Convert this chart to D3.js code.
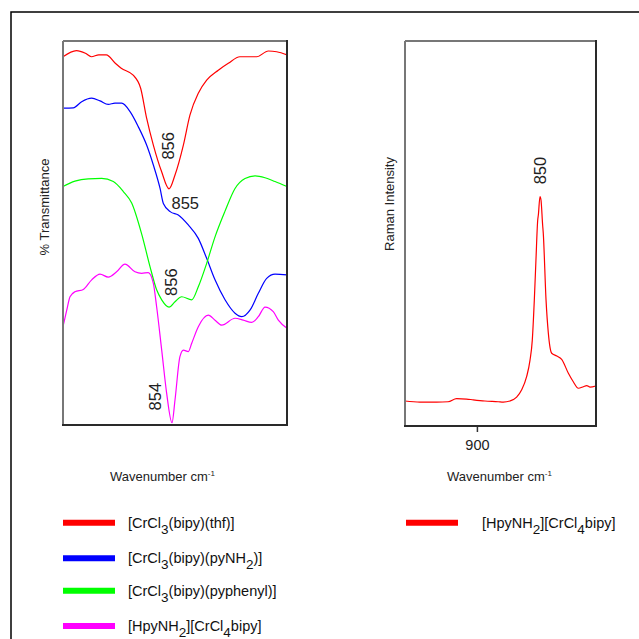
<!DOCTYPE html>
<html>
<head>
<meta charset="utf-8">
<script src="https://cdn.jsdelivr.net/npm/d3@7"></script>
<style>
  html, body { margin: 0; padding: 0; background: #fff; }
  svg { display: block; font-family: Arial, "Liberation Sans", sans-serif; }
</style>
</head>
<body>
<script>
// ---- IR spectra: [wavenumber cm-1, % transmittance (arbitrary offset)] ----
const irThf = [[927,95.9],[918,97.5],[912,96.8],[908,95.9],[903,96.4],[898,96.4],[892,94.2],[888,92.9],[880,91.1],[875,87.7],[871,79.9],[866.5,72.9],[861,66.0],[856,61.5],[852,65.1],[846.4,72.9],[842,80.7],[836.4,86.4],[830.8,89.8],[823,92.4],[816.3,94.2],[808.5,95.9],[797.3,95.9],[789.5,97.4],[783.9,97.2],[777,96.4]];
const irPyNH2 = [[927,82.5],[920.1,82.6],[914.5,84.2],[907.8,85.1],[902.2,84.4],[896.7,83.5],[892.2,83.8],[887.7,83.8],[882.1,81.6],[876.6,77.7],[871,72.9],[866.5,67.7],[862,61.6],[859.8,57.7],[855,55.5],[849.8,54.7],[843.1,52.1],[836.4,48.6],[830.8,43.4],[825.2,37.8],[818.5,32.6],[811.8,29.1],[807.3,28.2],[801.8,29.9],[796.2,34.3],[790.6,38.2],[785,39.3],[777,39.1]];
const irPyphenyl = [[927,62.1],[919,63.5],[910.1,64.1],[901.1,64.2],[893.3,63.4],[886.6,60.8],[881,57.8],[874.3,49.7],[868.7,41.2],[864.3,35.2],[860.9,32.6],[856,30.7],[852,32.1],[847.5,33.4],[840.8,32.6],[836.4,36.0],[830.8,42.1],[825.2,49.0],[818.5,55.7],[811.8,61.6],[805.1,64.2],[798.4,64.9],[791.7,64.4],[785,63.4],[777,62.1]];
const irHpyNH2 = [[927,25.6],[924.5,29.9],[922.3,33.4],[919,34.7],[913.4,35.3],[907.8,37.8],[902.2,39.3],[896.7,38.5],[891.1,39.9],[885.5,41.9],[878.8,39.9],[874.3,39.5],[869.9,39.7],[866.5,36.9],[864.3,30.8],[860.9,19.5],[857.6,8.3],[854,0.6],[852,6.5],[848.7,17.8],[846.4,19.5],[843.1,19.1],[840.8,21.3],[836.4,25.6],[829.7,28.6],[825.2,27.3],[820.7,26.0],[811.8,27.8],[806.3,27.3],[800.6,26.7],[796.2,28.2],[791.7,30.7],[786.2,29.5],[782.8,27.3],[777,25.2]];

// ---- Raman spectrum: [wavenumber cm-1, intensity (arbitrary)] ----
const ramanHpyNH2 = [[957,6.5],[945.2,6.2],[932,6.2],[922.8,6.3],[916.1,7.1],[908.2,7.0],[902.9,6.8],[893.7,6.5],[883.1,6.3],[879.1,6.2],[873.8,6.5],[868.5,7.5],[864.5,9.4],[860.6,12.8],[857.9,17.1],[856.1,22.3],[854.5,32.7],[853.2,43.1],[851.8,53.5],[851.3,54.8],[850,59.6],[849.2,58.7],[847.9,52.2],[847.4,50.1],[845.2,32.7],[843.4,24.2],[840.7,18.9],[836.7,18.2],[832.8,17.3],[827.5,13.7],[823.6,11.5],[819.6,9.8],[815.6,10.2],[813,10.5],[810.3,10.1],[805.8,10.4]];

// legend labels ("_n" marks a subscript digit)
const irLabels = ["[CrCl_3(bipy)(thf)]", "[CrCl_3(bipy)(pyNH_2)]", "[CrCl_3(bipy)(pyphenyl)]", "[HpyNH_2][CrCl_4bipy]"];
const ramanLabels = ["[HpyNH_2][CrCl_4bipy]"];

// band positions marked on the spectra
const irPeakSeries = [0, 1, 2, 3];
const irPeakValues = [856, 855, 856, 854];
const ramanPeakValues = [850];

const ramanTicks = [900];
const axisTitleX = "Wavenumber cm";
const irAxisTitleY = "% Transmittance";
const ramanAxisTitleY = "Raman Intensity";

// styling
const irColors = ["#ff0000", "#0000ff", "#00ff00", "#ff00ff"];
const ramanColor = "#ff0000";
const irSeries = [irThf, irPyNH2, irPyphenyl, irHpyNH2];

const W = 639, H = 639;
const svg = d3.select("body").append("svg").attr("width", W).attr("height", H);

// outer frame (open to the right and bottom)
svg.append("path")
  .attr("d", "M11,639 L11,12 L639,12")
  .attr("fill", "none").attr("stroke", "#000").attr("stroke-width", 1.5);

// ---- scales ----
const xL = d3.scaleLinear().domain([927, 777]).range([63, 287]);
const yL = d3.scaleLinear().domain([0, 100]).range([425, 41]);
const xR = d3.scaleLinear().domain([957, 805.6]).range([405, 596]);
const yR = d3.scaleLinear().domain([0, 100]).range([426, 41]);

function frame(x0, y0, x1, y1) {
  const g = svg.append("g");
  g.append("line").attr("x1", x0).attr("y1", y0).attr("x2", x1).attr("y2", y0).attr("stroke", "#777").attr("stroke-width", 2);
  g.append("line").attr("x1", x0).attr("y1", y0).attr("x2", x0).attr("y2", y1).attr("stroke", "#777").attr("stroke-width", 2);
  g.append("line").attr("x1", x1).attr("y1", y0 - 1).attr("x2", x1).attr("y2", y1 + 1).attr("stroke", "#2a2a2a").attr("stroke-width", 2);
  g.append("line").attr("x1", x0 - 1).attr("y1", y1).attr("x2", x1 + 1).attr("y2", y1).attr("stroke", "#2a2a2a").attr("stroke-width", 2);
}

// ---- IR panel ----
const lineL = d3.line().x(d => xL(d[0])).y(d => yL(d[1])).curve(d3.curveMonotoneX);
svg.append("g").selectAll("path").data(irSeries).join("path")
  .attr("d", lineL)
  .attr("fill", "none")
  .attr("stroke", (d, i) => irColors[i])
  .attr("stroke-width", 1.2);
frame(63, 41, 287, 425);

// band labels on the IR spectra
function valueAt(series, wn) {
  const pts = series.slice().sort((a, b) => a[0] - b[0]);
  const i = d3.bisector(d => d[0]).left(pts, wn);
  if (i <= 0) return pts[0][1];
  if (i >= pts.length) return pts[pts.length - 1][1];
  const a = pts[i - 1], b = pts[i];
  return a[1] + (b[1] - a[1]) * (wn - a[0]) / (b[0] - a[0]);
}
const irLabelOffsets = [
  { dx: -1, dy: -43, rot: true },
  { dx: 1, dy: -3, rot: false },
  { dx: 2, dy: -25, rot: true },
  { dx: -17, dy: -26, rot: true }
];
irPeakSeries.forEach((s, k) => {
  const wn = irPeakValues[k];
  const px = xL(wn), py = yL(valueAt(irSeries[s], wn));
  const o = irLabelOffsets[k];
  const t = svg.append("text").text(String(wn))
    .attr("font-size", 16.5).attr("fill", "#222");
  if (o.rot) {
    t.attr("transform", `translate(${px + o.dx},${py + o.dy}) rotate(-90)`)
      .attr("text-anchor", "middle").attr("dy", "0.36em");
  } else {
    t.attr("x", px + o.dx).attr("y", py + o.dy);
  }
});

// ---- Raman panel ----
const lineR = d3.line().x(d => xR(d[0])).y(d => yR(d[1])).curve(d3.curveMonotoneX);
svg.append("path").datum(ramanHpyNH2)
  .attr("d", lineR)
  .attr("fill", "none").attr("stroke", ramanColor).attr("stroke-width", 1.2);

const axR = svg.append("g").attr("transform", "translate(0,426)")
  .call(d3.axisBottom(xR).tickValues(ramanTicks).tickSize(6).tickFormat(d3.format("d")));
axR.select(".domain").remove();
axR.selectAll(".tick line").attr("stroke", "#333").attr("stroke-width", 1.5);
axR.selectAll(".tick text").attr("font-size", 14.5).attr("font-family", "Arial, 'Liberation Sans', sans-serif").attr("fill", "#222").attr("y", 14);
frame(405, 41, 596, 426);

ramanPeakValues.forEach(wn => {
  const px = xR(wn), py = yR(valueAt(ramanHpyNH2, wn));
  svg.append("text").text(String(wn))
    .attr("transform", `translate(${px},${py - 26}) rotate(-90)`)
    .attr("text-anchor", "middle").attr("dy", "0.36em")
    .attr("font-size", 16.5).attr("fill", "#222");
});

// ---- axis titles ----
function xTitle(x) {
  const t = svg.append("text").attr("x", x).attr("y", 481).attr("font-size", 13).attr("fill", "#222");
  t.append("tspan").text(axisTitleX);
  t.append("tspan").text("-1").attr("font-size", 8).attr("dy", -5);
}
xTitle(110);
xTitle(447);
svg.append("text").text(irAxisTitleY)
  .attr("transform", "translate(44,207) rotate(-90)")
  .attr("text-anchor", "middle").attr("dy", "0.36em")
  .attr("font-size", 13).attr("fill", "#222");
svg.append("text").text(ramanAxisTitleY)
  .attr("transform", "translate(389,204) rotate(-90)")
  .attr("text-anchor", "middle").attr("dy", "0.36em")
  .attr("font-size", 13).attr("fill", "#222");

// ---- legends ----
function richLabel(sel, label) {
  label.split(/(_\d)/).filter(s => s.length).forEach(part => {
    if (part[0] === "_") {
      sel.append("tspan").text(part.slice(1)).attr("font-size", 13.5).attr("dy", 6);
    } else {
      const prev = sel.selectAll("tspan").size();
      const ts = sel.append("tspan").text(part);
      if (prev > 0) ts.attr("dy", -6);
    }
  });
}
const legendRowsY = [522.7, 558.3, 590.7, 626];
const legL = svg.append("g");
irLabels.forEach((lab, i) => {
  const y = legendRowsY[i];
  legL.append("line").attr("x1", 63).attr("x2", 115).attr("y1", y).attr("y2", y)
    .attr("stroke", irColors[i]).attr("stroke-width", 6);
  const t = legL.append("text").attr("x", 128).attr("y", y + 5).attr("font-size", 14.5).attr("fill", "#111");
  richLabel(t, lab);
});
const legR = svg.append("g");
ramanLabels.forEach((lab, i) => {
  const y = legendRowsY[i];
  legR.append("line").attr("x1", 406).attr("x2", 458).attr("y1", y).attr("y2", y)
    .attr("stroke", ramanColor).attr("stroke-width", 6);
  const t = legR.append("text").attr("x", 482).attr("y", y + 5).attr("font-size", 14.5).attr("fill", "#111");
  richLabel(t, lab);
});
</script>
</body>
</html>
